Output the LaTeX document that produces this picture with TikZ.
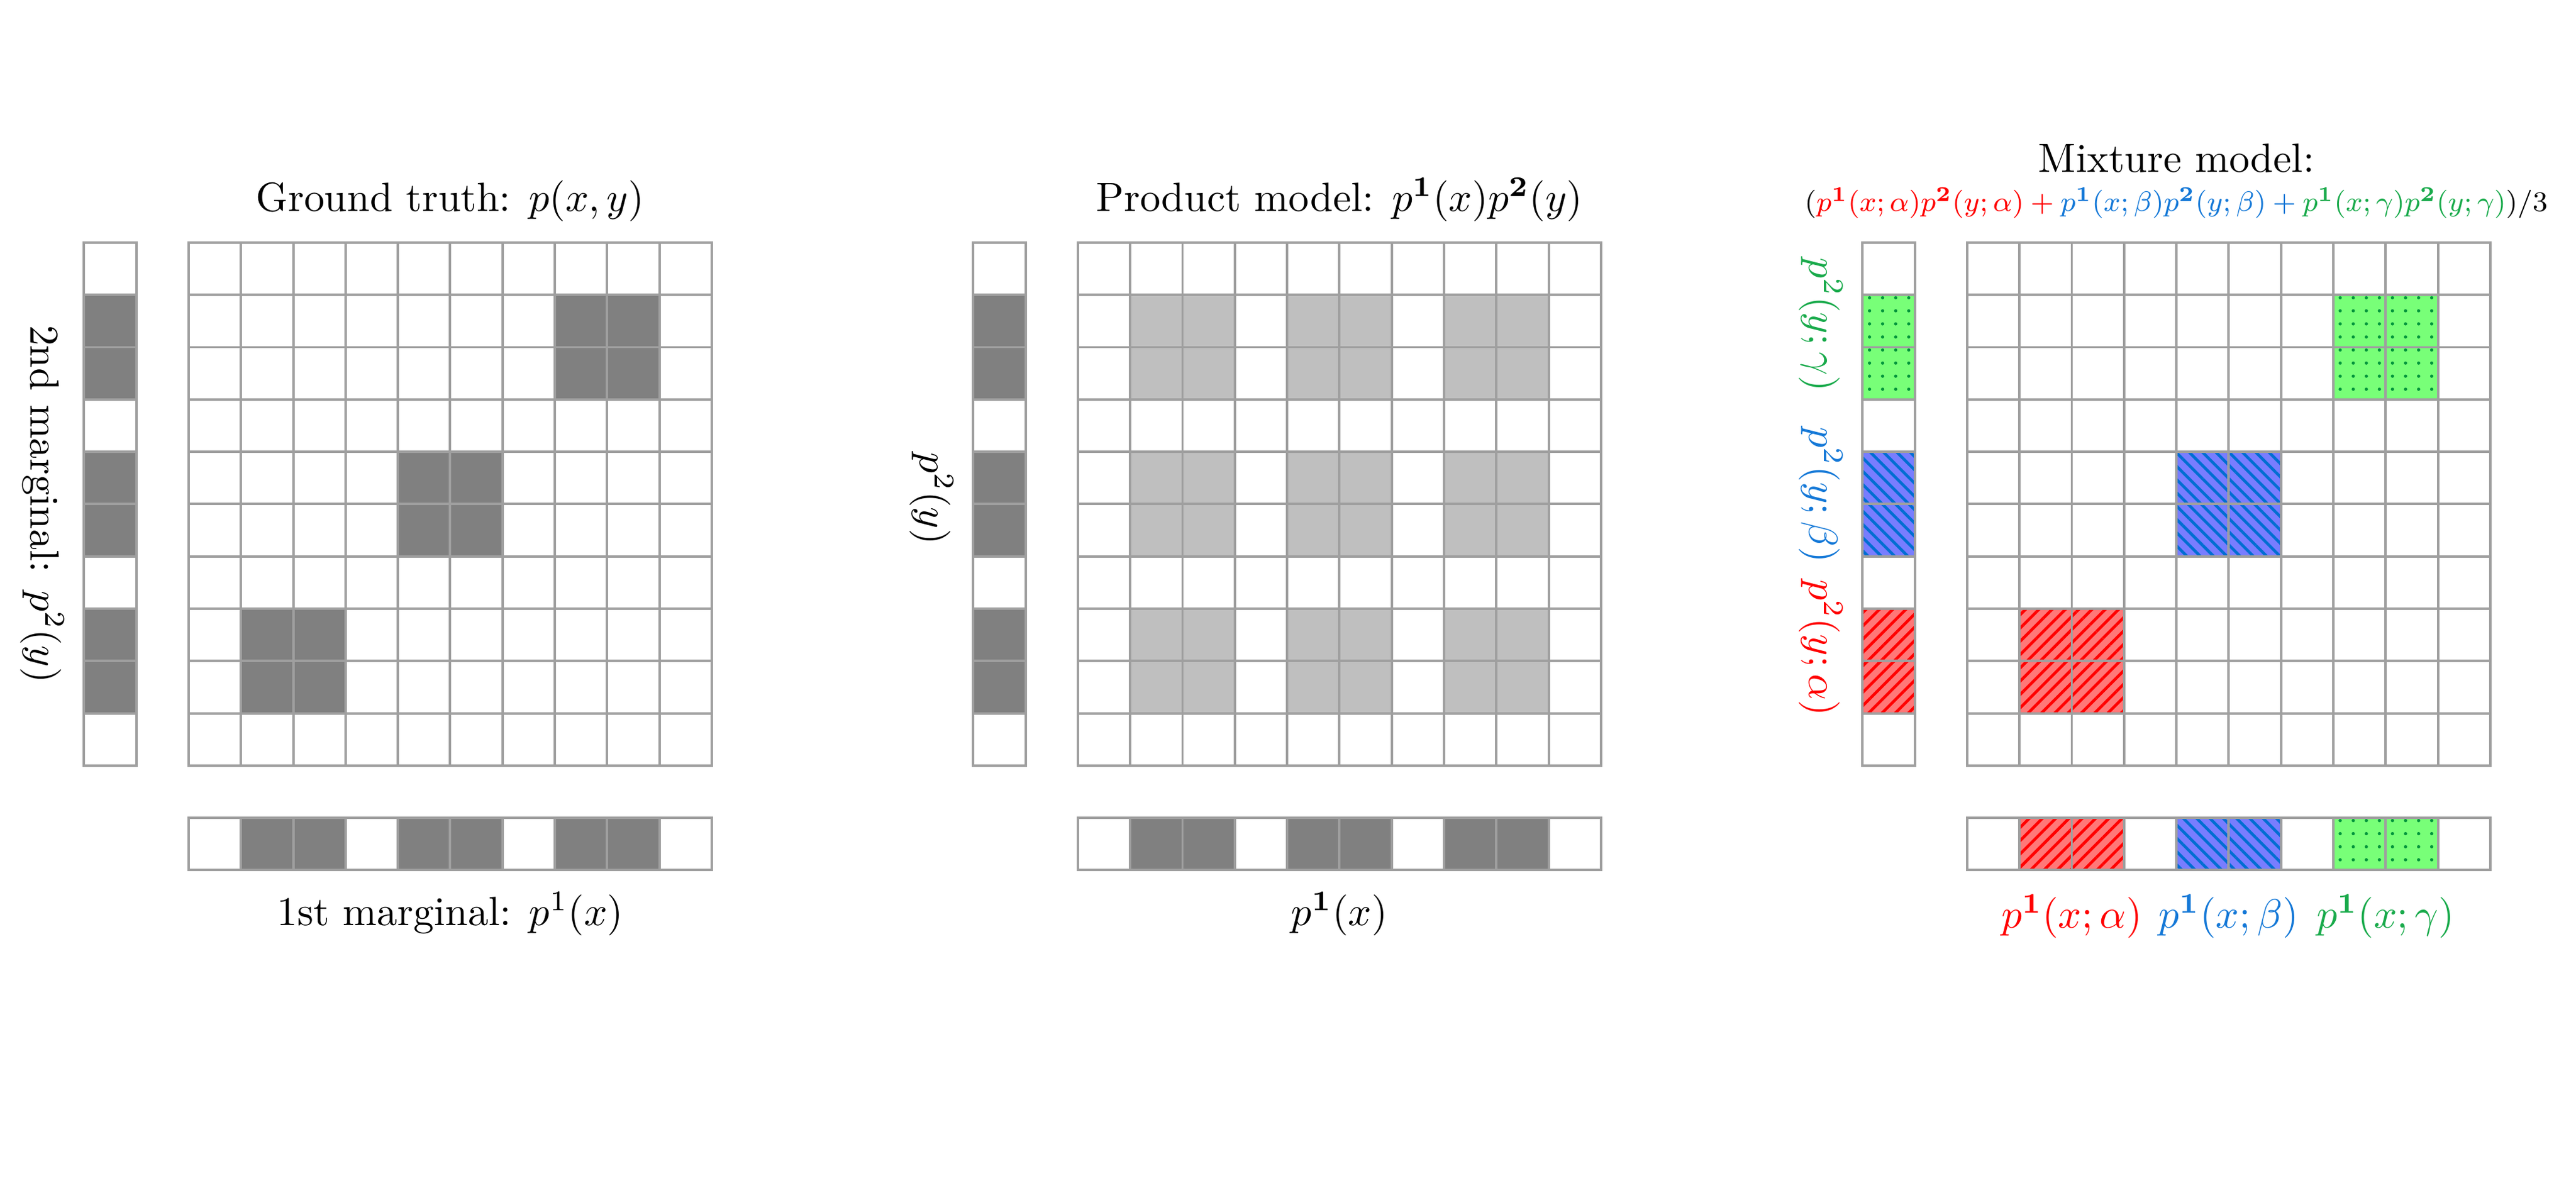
\documentclass[tikz,border=0pt]{standalone}
\usepackage{amsmath, amssymb}
\usepackage{graphicx}
\usepackage{tikz}
\usetikzlibrary{patterns.meta}
\definecolor{bluetxt}{RGB}{20,120,215}
\definecolor{greentxt}{RGB}{25,170,75}
\begin{document}
\begin{tikzpicture}[x=0.45cm, y=0.45cm,
  cellline/.style={draw=gray!75, line width=0.6pt, step=0.45cm},
  dark/.style={fill=gray},
  light/.style={fill=gray!50},
  redcell/.style={fill={rgb,255:red,255;green,120;blue,120},
    postaction={pattern={Lines[angle=45,distance=2.3pt,line width=0.7pt]}, pattern color=red}},
  bluecell/.style={fill={rgb,255:red,120;green,125;blue,255},
    postaction={pattern={Lines[angle=-45,distance=2.3pt,line width=0.7pt]}, pattern color={rgb,255:red,0;green,110;blue,210}}},
  greencell/.style={fill={rgb,255:red,120;green,255;blue,120},
    postaction={pattern={Dots[distance=3.2pt,radius=0.4pt]}, pattern color={rgb,255:red,0;green,150;blue,60}}}]
\useasboundingbox (-3.606,-8.30) rectangle (45.64,14.638);

% ground truth
\foreach \k in {1,4,7} {
  \fill[dark] (\k,\k) rectangle ++(2,2);
  \fill[dark] (-2,\k) rectangle ++(1,2);
  \fill[dark] (\k,-2) rectangle ++(2,1);
}
\draw[cellline] (0,0) grid (10,10) (0,0) rectangle (10,10);
\draw[cellline] (-2,0) grid (-1,10) (-2,0) rectangle (-1,10);
\draw[cellline] (0,-2) grid (10,-1) (0,-2) rectangle (10,-1);
\path (5,10.6) node[anchor=base] (gt) {Ground truth: $p(x,y)$}
      (5,-3.06) node[anchor=base] (gtx) {1st marginal: $p^1(x)$}
      (-2.8,5) node[rotate=-90] (gty) {2nd marginal: $p^2(y)$};

% product model
\begin{scope}[shift={(17,0)}]
\foreach \i in {1,4,7} {
  \foreach \j in {1,4,7}
    \fill[light] (\i,\j) rectangle ++(2,2);
  \fill[dark] (-2,\i) rectangle ++(1,2);
  \fill[dark] (\i,-2) rectangle ++(2,1);
}
\draw[cellline] (0,0) grid (10,10) (0,0) rectangle (10,10);
\draw[cellline] (-2,0) grid (-1,10) (-2,0) rectangle (-1,10);
\draw[cellline] (0,-2) grid (10,-1) (0,-2) rectangle (10,-1);
\path (5,10.6) node[anchor=base] (pm) {Product model: $p^{\mathbf{1}}(x)p^{\mathbf{2}}(y)$}
      (5,-3.06) node[anchor=base] (pmx) {$p^{\mathbf{1}}(x)$}
      (-2.8,5.1) node[rotate=-90] (pmy) {$p^2(y)$};
\end{scope}

% mixture model
\begin{scope}[shift={(34,0)}]
\fill[redcell] (1,1) rectangle ++(2,2);
\fill[redcell] (-2,1) rectangle ++(1,2);
\fill[redcell] (1,-2) rectangle ++(2,1);
\fill[bluecell] (4,4) rectangle ++(2,2);
\fill[bluecell] (-2,4) rectangle ++(1,2);
\fill[bluecell] (4,-2) rectangle ++(2,1);
\fill[greencell] (7,7) rectangle ++(2,2);
\fill[greencell] (-2,7) rectangle ++(1,2);
\fill[greencell] (7,-2) rectangle ++(2,1);
\draw[cellline] (0,0) grid (10,10) (0,0) rectangle (10,10);
\draw[cellline] (-2,0) grid (-1,10) (-2,0) rectangle (-1,10);
\draw[cellline] (0,-2) grid (10,-1) (0,-2) rectangle (10,-1);
\path (4,11.34) node[anchor=base] (mm) {Mixture model:}
      (-3.12,10.6) node[anchor=base west, inner sep=0pt] (mmf)
        {\resizebox{6.39cm}{!}{\footnotesize
          $(\textcolor{red}{p^{\mathbf{1}}(x;\alpha)p^{\mathbf{2}}(y;\alpha)}\mathbin{\textcolor{red}{+}}
          \textcolor{bluetxt}{p^{\mathbf{1}}(x;\beta)p^{\mathbf{2}}(y;\beta)}\mathbin{\textcolor{bluetxt}{+}}
          \textcolor{greentxt}{p^{\mathbf{1}}(x;\gamma)p^{\mathbf{2}}(y;\gamma)})/3$}}
      (2,-3.1) node[anchor=base, text=red] (mxa) {$p^{\mathbf{1}}(x;\alpha)$}
      (5,-3.1) node[anchor=base, text=bluetxt] (mxb) {$p^{\mathbf{1}}(x;\beta)$}
      (8,-3.1) node[anchor=base, text=greentxt] (mxc) {$p^{\mathbf{1}}(x;\gamma)$}
      (-2.8,8.43) node[rotate=-90, text=greentxt] (myc) {$p^2(y;\gamma)$}
      (-2.8,5.17) node[rotate=-90, text=bluetxt] (myb) {$p^2(y;\beta)$}
      (-2.8,2.25) node[rotate=-90, text=red] (mya) {$p^2(y;\alpha)$};
\end{scope}
\end{tikzpicture}
\end{document}
